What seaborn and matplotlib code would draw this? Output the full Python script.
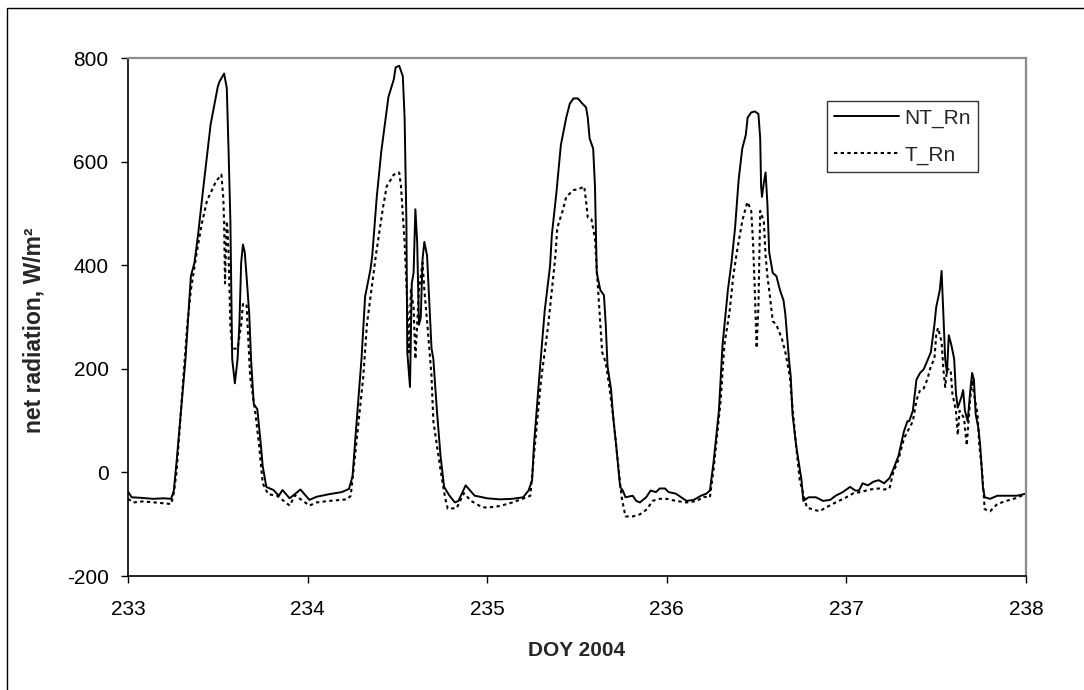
import numpy as np
import pandas as pd
import matplotlib
matplotlib.use("Agg")
import matplotlib.pyplot as plt
from matplotlib.patches import Rectangle
import seaborn as sns

# Net radiation over the untreated (NT) and treated (T) surfaces, W/m2
nt_doy = [233.00, 233.02, 233.07, 233.14, 233.20, 233.24, 233.255, 233.27, 233.29, 233.32,
          233.35, 233.37, 233.39, 233.42, 233.46, 233.50, 233.51, 233.535, 233.55, 233.56,
          233.57, 233.58, 233.595, 233.61, 233.62, 233.63, 233.64, 233.65, 233.66, 233.675,
          233.685, 233.70, 233.72, 233.74, 233.75, 233.77, 233.81, 233.84, 233.86, 233.90,
          233.96, 234.01, 234.05, 234.12, 234.19, 234.23, 234.25, 234.27, 234.30, 234.32,
          234.35, 234.36, 234.385, 234.41, 234.43, 234.45, 234.48, 234.49, 234.51, 234.53,
          234.54, 234.55, 234.555, 234.57, 234.58, 234.59, 234.60, 234.61, 234.62, 234.63,
          234.64, 234.65, 234.665, 234.68, 234.69, 234.70, 234.72, 234.74, 234.76, 234.79,
          234.82, 234.84, 234.88, 234.93, 234.96, 235.00, 235.07, 235.14, 235.20, 235.23,
          235.25, 235.26, 235.29, 235.32, 235.35, 235.36, 235.385, 235.41, 235.44, 235.46,
          235.48, 235.505, 235.53, 235.55, 235.56, 235.57, 235.59, 235.60, 235.605, 235.61,
          235.63, 235.65, 235.66, 235.67, 235.69, 235.70, 235.72, 235.74, 235.755, 235.77,
          235.81, 235.83, 235.85, 235.885, 235.91, 235.94, 235.96, 235.99, 236.01, 236.05,
          236.08, 236.11, 236.15, 236.19, 236.22, 236.24, 236.26, 236.29, 236.31, 236.34,
          236.36, 236.38, 236.40, 236.42, 236.44, 236.45, 236.47, 236.49, 236.51, 236.52,
          236.525, 236.53, 236.54, 236.55, 236.56, 236.57, 236.59, 236.61, 236.63, 236.65,
          236.66, 236.68, 236.69, 236.70, 236.72, 236.75, 236.76, 236.79, 236.83, 236.87,
          236.91, 236.94, 236.98, 237.02, 237.05, 237.07, 237.09, 237.12, 237.15, 237.18,
          237.21, 237.24, 237.26, 237.29, 237.32, 237.34, 237.35, 237.37, 237.39, 237.41,
          237.43, 237.45, 237.47, 237.49, 237.50, 237.52, 237.53, 237.54, 237.55, 237.56,
          237.57, 237.585, 237.60, 237.61, 237.62, 237.64, 237.65, 237.66, 237.675, 237.69,
          237.70, 237.71, 237.72, 237.735, 237.745, 237.76, 237.77, 237.80, 237.84, 237.89,
          237.95, 238.00]
nt_rn = [-37, -48, -49, -51, -50, -51, -35, 19, 99, 219,
         379, 405, 459, 552, 672, 745, 755, 770, 742, 619,
         485, 219, 172, 219, 285, 405, 440, 425, 379, 305,
         219, 132, 122, 52, 12, -28, -34, -45, -34, -50,
         -33, -53, -47, -42, -38, -32, -8, 85, 219, 339,
         392, 419, 532, 619, 672, 725, 759, 782, 785, 765,
         685, 485, 232, 165, 365, 385, 508, 445, 285, 299,
         412, 445, 419, 312, 239, 219, 119, 32, -28, -45,
         -58, -55, -25, -45, -47, -50, -52, -51, -48, -35,
         -15, 52, 185, 312, 399, 459, 539, 632, 685, 712,
         722, 722, 712, 705, 685, 645, 625, 552, 472, 385,
         352, 342, 285, 205, 159, 112, 45, -28, -35, -48,
         -45, -55, -58, -48, -35, -38, -31, -31, -38, -41,
         -48, -55, -53, -45, -41, -35, 19, 119, 245, 352,
         405, 472, 565, 625, 652, 685, 695, 697, 692, 645,
         552, 532, 559, 579, 519, 425, 385, 379, 352, 332,
         305, 219, 185, 112, 52, -15, -55, -48, -48, -55,
         -53, -45, -38, -28, -35, -35, -21, -25, -18, -15,
         -21, -11, 5, 32, 79, 99, 99, 119, 179, 192,
         199, 215, 232, 285, 319, 352, 389, 305, 219, 192,
         265, 245, 219, 152, 125, 145, 159, 119, 99, 159,
         192, 179, 112, 85, 52, -28, -48, -51, -45, -45,
         -45, -41]

t_doy = [233.00, 233.03, 233.08, 233.15, 233.24, 233.255, 233.27, 233.30, 233.33, 233.35,
         233.38, 233.41, 233.44, 233.49, 233.52, 233.53, 233.535, 233.54, 233.55, 233.555,
         233.56, 233.57, 233.58, 233.61, 233.63, 233.64, 233.66, 233.68, 233.71, 233.73,
         233.75, 233.78, 233.83, 233.90, 233.93, 234.01, 234.05, 234.12, 234.22, 234.24,
         234.27, 234.31, 234.33, 234.36, 234.38, 234.42, 234.44, 234.48, 234.51, 234.52,
         234.53, 234.54, 234.56, 234.565, 234.575, 234.59, 234.60, 234.61, 234.62, 234.64,
         234.65, 234.67, 234.69, 234.70, 234.72, 234.74, 234.765, 234.78, 234.83, 234.87,
         234.91, 234.97, 235.00, 235.07, 235.14, 235.22, 235.24, 235.26, 235.30, 235.34,
         235.36, 235.38, 235.39, 235.42, 235.44, 235.48, 235.51, 235.54, 235.55, 235.56,
         235.58, 235.60, 235.61, 235.62, 235.64, 235.66, 235.68, 235.70, 235.72, 235.74,
         235.75, 235.77, 235.81, 235.85, 235.89, 235.92, 235.96, 236.00, 236.05, 236.11,
         236.17, 236.20, 236.24, 236.26, 236.30, 236.32, 236.35, 236.37, 236.39, 236.42,
         236.44, 236.45, 236.47, 236.48, 236.49, 236.50, 236.51, 236.52, 236.54, 236.55,
         236.56, 236.57, 236.59, 236.61, 236.64, 236.66, 236.685, 236.70, 236.72, 236.74,
         236.78, 236.81, 236.85, 236.89, 236.94, 237.00, 237.04, 237.08, 237.13, 237.18,
         237.21, 237.24, 237.26, 237.29, 237.32, 237.34, 237.36, 237.37, 237.39, 237.41,
         237.43, 237.45, 237.47, 237.49, 237.50, 237.51, 237.53, 237.54, 237.55, 237.56,
         237.58, 237.59, 237.61, 237.62, 237.63, 237.655, 237.67, 237.69, 237.70, 237.71,
         237.73, 237.74, 237.755, 237.77, 237.80, 237.84, 237.89, 237.95, 238.00]
t_rn = [-51, -58, -56, -58, -61, -40, 0, 145, 285, 352,
        419, 479, 525, 562, 575, 532, 485, 365, 485, 465,
        419, 285, 239, 239, 285, 325, 325, 185, 112, 52,
        -21, -42, -45, -64, -44, -64, -58, -55, -52, -45,
        52, 185, 285, 365, 419, 512, 552, 575, 579, 552,
        499, 445, 285, 232, 352, 319, 219, 285, 352, 405,
        352, 272, 185, 99, 52, 5, -48, -70, -69, -40,
        -55, -67, -68, -65, -58, -48, -45, 32, 179, 285,
        352, 419, 472, 505, 532, 545, 547, 552, 525, 492,
        489, 452, 392, 339, 232, 212, 165, 112, 45, -21,
        -51, -85, -85, -81, -71, -55, -51, -51, -55, -58,
        -55, -47, -48, 5, 139, 245, 312, 379, 425, 485,
        512, 522, 505, 445, 352, 240, 319, 505, 485, 419,
        379, 352, 292, 285, 259, 232, 185, 125, 52, -15,
        -68, -71, -75, -67, -58, -48, -40, -38, -33, -31,
        -33, -31, -1, 25, 65, 79, 92, 99, 139, 159,
        162, 179, 205, 219, 265, 279, 252, 199, 165, 199,
        199, 152, 119, 72, 119, 105, 52, 145, 179, 152,
        112, 52, 5, -71, -75, -61, -55, -49, -41]

x_ticks = [233, 234, 235, 236, 237, 238]
y_ticks = [-200, 0, 200, 400, 600, 800]

sns.set_style("white")
plt.rcParams["font.family"] = ["Liberation Sans", "DejaVu Sans"]

fig = plt.figure(figsize=(10.84, 6.90), dpi=100)
ax = fig.add_axes([0.1181, 0.1652, 0.8284, 0.7507])

nt = pd.DataFrame({"DOY": nt_doy, "Rn": nt_rn})
tr = pd.DataFrame({"DOY": t_doy, "Rn": t_rn})

sns.lineplot(data=nt, x="DOY", y="Rn", ax=ax, color="black", linewidth=1.4,
             estimator=None, label="NT_Rn")
sns.lineplot(data=tr, x="DOY", y="Rn", ax=ax, color="black", linewidth=1.5,
             linestyle=(0, (1.6, 1.6)), estimator=None, label="T_Rn")

ax.set_xlim(233, 238)
ax.set_ylim(-200, 800)
ax.set_xticks(x_ticks)
ax.set_yticks(y_ticks)
ax.set_xticklabels([str(v) for v in x_ticks])
ax.set_yticklabels([str(v) for v in y_ticks])

ax.tick_params(axis="both", which="major", direction="out", length=5, width=1,
               color="black", labelsize=15, labelcolor="black")
ax.tick_params(axis="y", pad=9)
ax.tick_params(axis="x", pad=12)
ax.xaxis.set_ticks_position("bottom")
ax.yaxis.set_ticks_position("left")

for side in ("left", "bottom"):
    ax.spines[side].set_color("black")
    ax.spines[side].set_linewidth(1.2)
for side in ("top", "right"):
    ax.spines[side].set_color("#8c8c8c")
    ax.spines[side].set_linewidth(1.6)

ax.set_xlabel("DOY 2004", fontsize=15, fontweight="bold", labelpad=16)
ax.set_ylabel("net radiation, W/m²", fontsize=16.5, fontweight="bold")
ax.yaxis.set_label_coords(-0.092, 0.475)
ax.grid(False)

leg = ax.legend(loc="upper right", bbox_to_anchor=(0.947, 0.917), borderaxespad=0,
                fontsize=15, frameon=True, fancybox=False, handlelength=3.1,
                handletextpad=0.27, borderpad=0.35, labelspacing=0.85)
leg.get_frame().set_edgecolor("black")
leg.get_frame().set_linewidth(1.0)

# chart-area border
fig.patches.append(Rectangle((7 / 1084, -0.01), 1.02, 1 - 8 / 690 + 0.01,
                             transform=fig.transFigure, fill=False,
                             edgecolor="black", linewidth=1.0))

fig.savefig("out.png", dpi=100)
